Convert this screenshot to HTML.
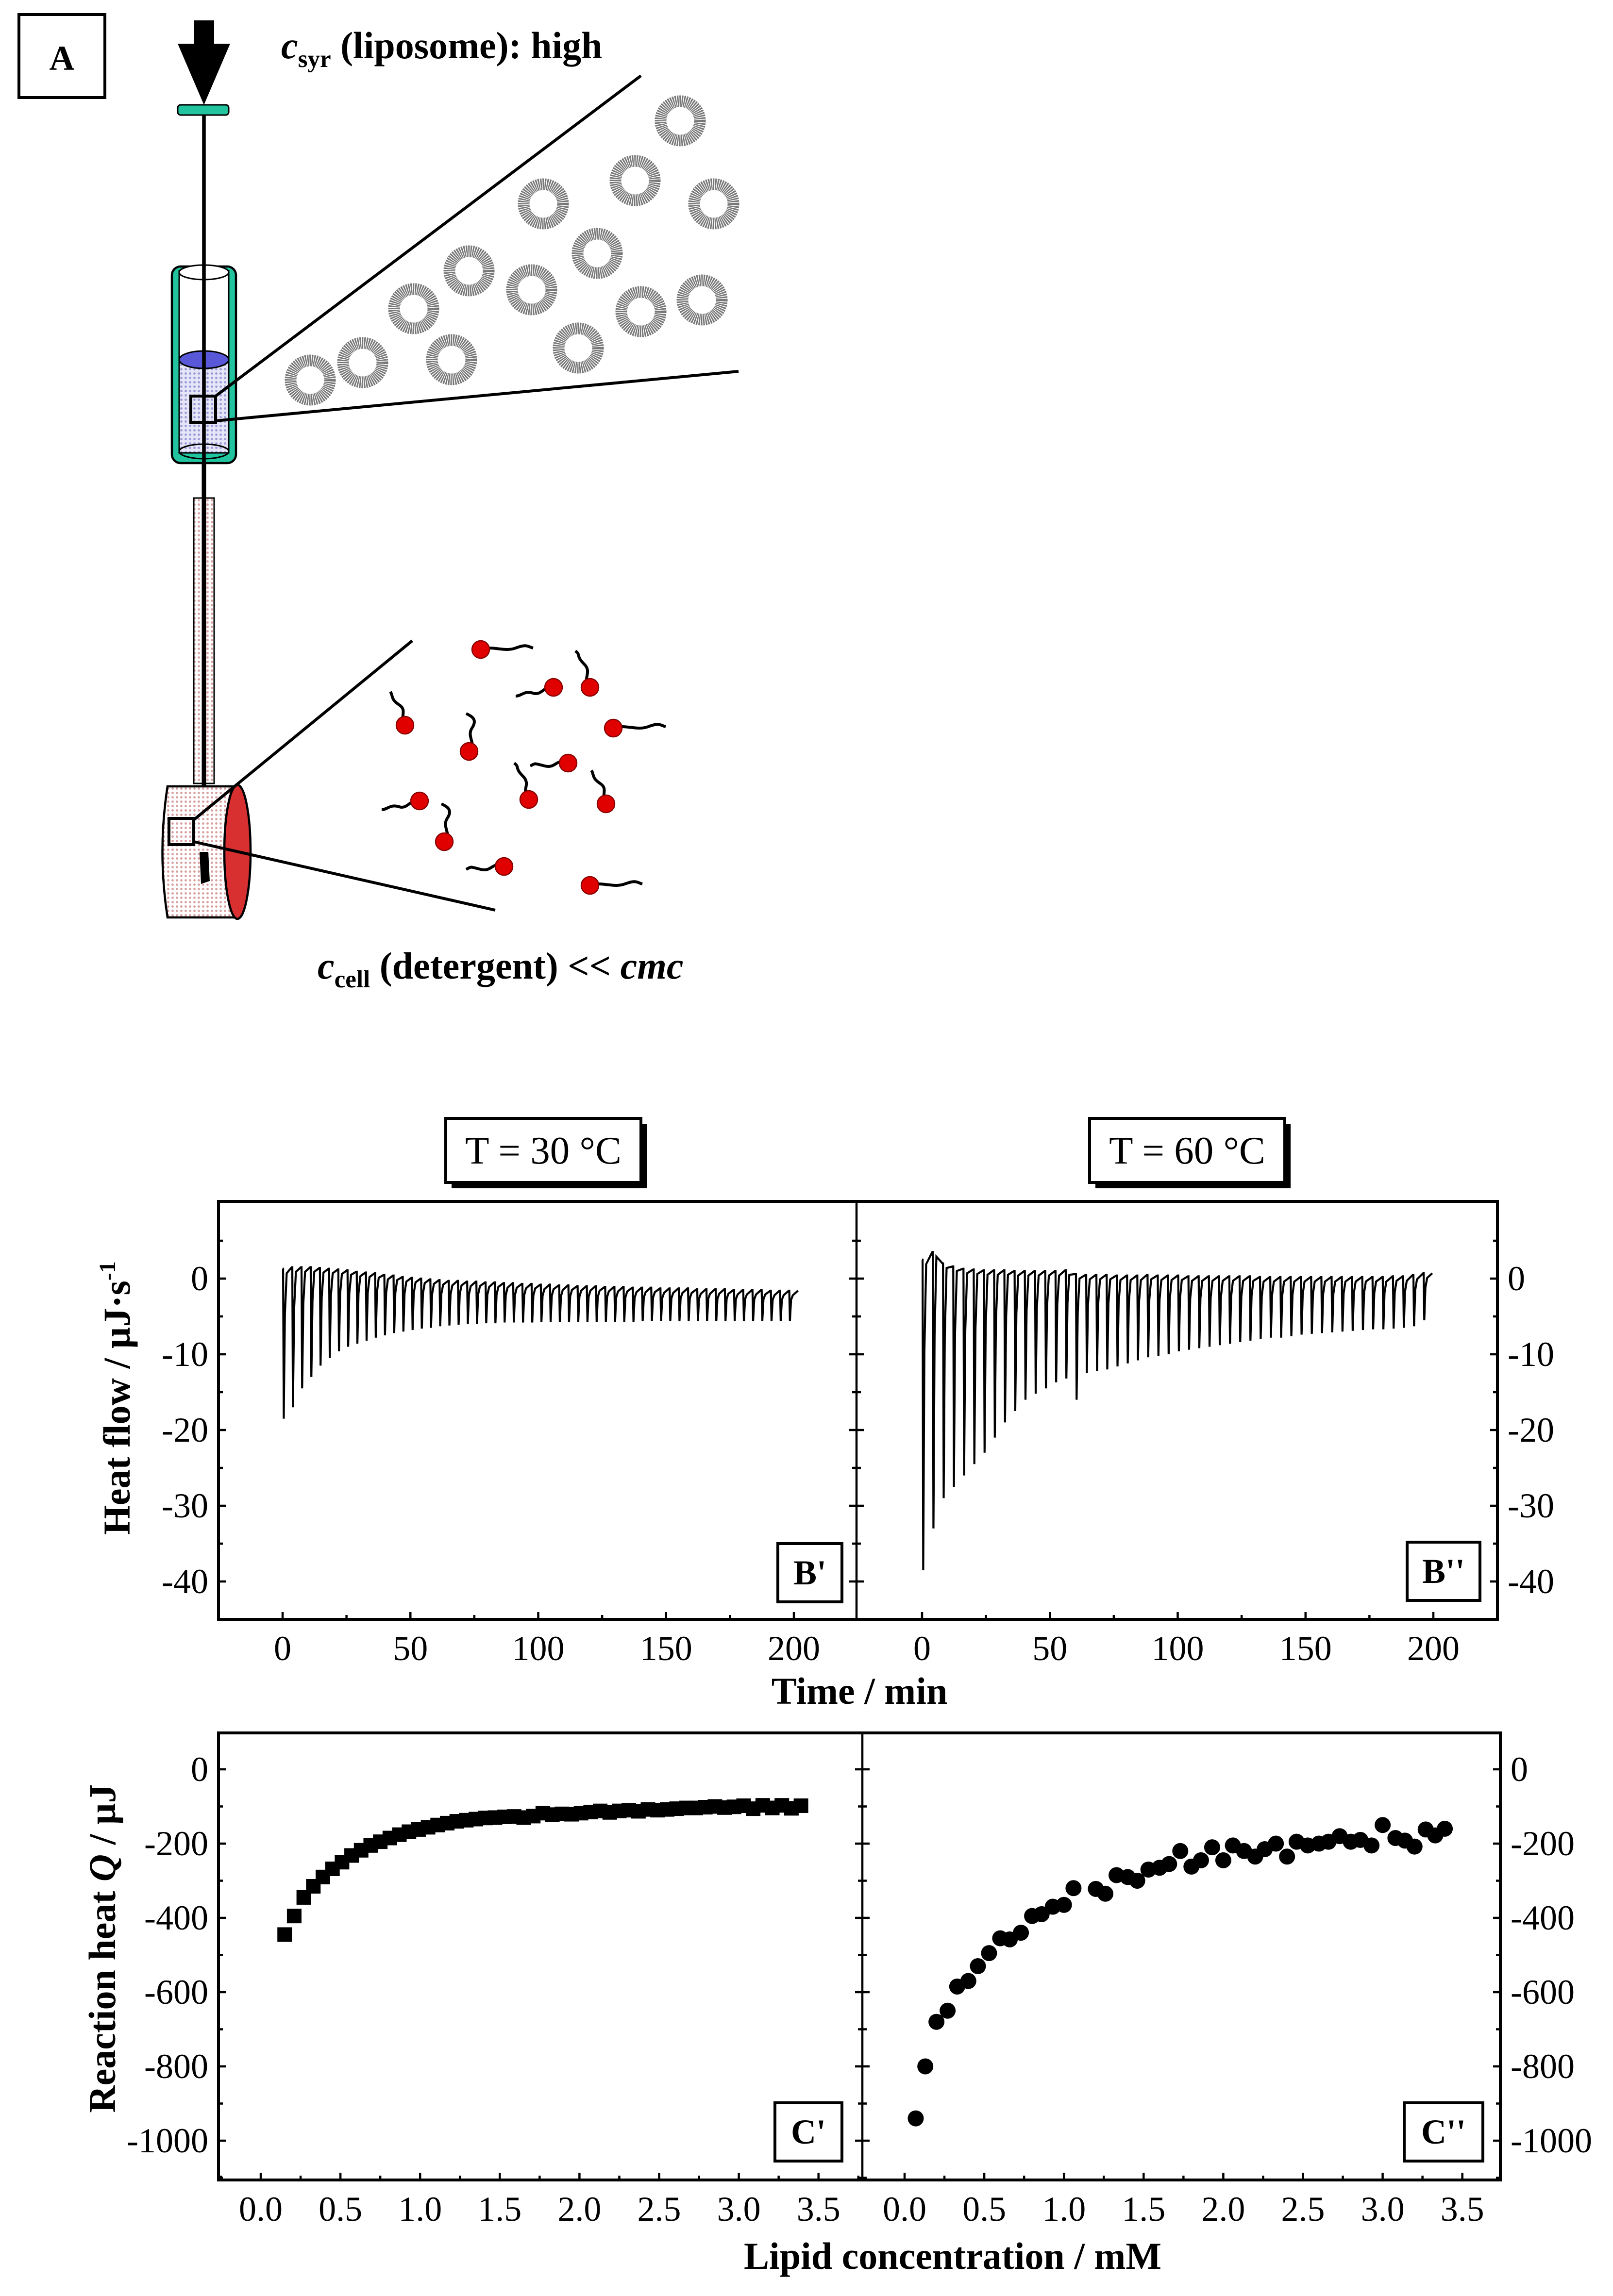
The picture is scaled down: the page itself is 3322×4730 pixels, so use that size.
<!DOCTYPE html>
<html><head><meta charset="utf-8"><style>
html,body{margin:0;padding:0;background:#fff}
svg{display:block}
text{font-family:"Liberation Serif",serif;fill:#000}
</style></head><body>
<svg id="fig" xmlns="http://www.w3.org/2000/svg" width="3322" height="4730" viewBox="0 0 1107.33 1576.67">
<defs>
<pattern id="dots" width="3" height="3" patternUnits="userSpaceOnUse"><rect width="3" height="3" fill="#fff"/><circle cx="1.5" cy="1.5" r="0.8" fill="#d9a0a0"/></pattern>
<pattern id="bdots" width="3" height="3" patternUnits="userSpaceOnUse"><rect width="3" height="3" fill="#e6e6f8"/><circle cx="1.5" cy="1.5" r="0.8" fill="#9a9ad8"/></pattern>
</defs>
<g>
<rect x="13" y="10" width="59" height="57" fill="none" stroke="#000" stroke-width="2"/>
<text x="42.5" y="48" font-size="24" font-weight="bold" text-anchor="middle">A</text>
<polygon points="133,14 147,14 147,30 158,30 140,72 122,30 133,30" fill="#000"/>
<rect x="122" y="72" width="35" height="7" rx="2" fill="#22c4a0" stroke="#000" stroke-width="1"/>
<rect x="118" y="183" width="44" height="135" rx="6" fill="#22c4a0" stroke="#000" stroke-width="1.5"/>
<rect x="123" y="186" width="34" height="125" fill="#fff" stroke="#000" stroke-width="1"/>
<rect x="123" y="247" width="34" height="64" fill="url(#bdots)" stroke="#000" stroke-width="1"/>
<ellipse cx="140" cy="247" rx="17" ry="6" fill="#5858d8" stroke="#000" stroke-width="1"/>
<ellipse cx="140" cy="187" rx="17" ry="5" fill="#fff" stroke="#000" stroke-width="1"/>
<ellipse cx="140" cy="310" rx="17" ry="5" fill="none" stroke="#000" stroke-width="1"/>
<line x1="140" y1="79" x2="140" y2="600" stroke="#000" stroke-width="2.5"/>
<rect x="133" y="342" width="14" height="196" fill="url(#dots)" stroke="#000" stroke-width="1"/>
<line x1="140" y1="318" x2="140" y2="600" stroke="#000" stroke-width="3"/>
<rect x="131" y="272" width="17" height="18" fill="none" stroke="#000" stroke-width="2"/>
<line x1="148" y1="272" x2="440" y2="52" stroke="#000" stroke-width="2"/>
<line x1="148" y1="289" x2="507" y2="255" stroke="#000" stroke-width="2"/>
<g id="lipos"></g>
<path d="M115,540 L162,540 L162,630 L115,630 Q108,585 115,540 Z" fill="url(#dots)" stroke="#000" stroke-width="1.5"/>
<ellipse cx="163" cy="585" rx="9" ry="46" fill="#d83030" stroke="#000" stroke-width="1.5"/>
<path d="M137,585 L143,585 L144,605 L138,607 Z" fill="#000"/>
<rect x="116" y="562" width="17" height="18" fill="none" stroke="#000" stroke-width="2"/>
<line x1="133" y1="563" x2="283" y2="440" stroke="#000" stroke-width="2"/>
<line x1="133" y1="578" x2="340" y2="625" stroke="#000" stroke-width="2"/>
<g id="dets"></g>
<text x="193" y="40" font-size="26" font-weight="bold"><tspan font-style="italic">c</tspan><tspan font-size="17" dy="6">syr</tspan><tspan dy="-6"> (liposome): high</tspan></text>
<text x="218" y="672" font-size="26" font-weight="bold"><tspan font-style="italic">c</tspan><tspan font-size="17" dy="6">cell</tspan><tspan dy="-6"> (detergent) &lt;&lt; </tspan><tspan font-style="italic">cmc</tspan></text>
</g>
<g>
<rect x="310" y="772" width="134" height="44" fill="#000"/>
<rect x="306" y="768" width="134" height="44" fill="#fff" stroke="#000" stroke-width="2"/>
<text x="373" y="799" font-size="27" text-anchor="middle">T = 30 °C</text>
<rect x="752" y="772" width="134" height="44" fill="#000"/>
<rect x="748" y="768" width="134" height="44" fill="#fff" stroke="#000" stroke-width="2"/>
<text x="815" y="799" font-size="27" text-anchor="middle">T = 60 °C</text>
</g>
<g id="charts"></g>
</svg>
<script>
// ---- data ----
const bLeftTimes = [0,3.6,7.2,10.8,14.4,18,21.6,25.2,28.8,32.4,36,39.6,43.2,46.8,50.4,54,57.6,61.2,64.8,68.4,72,75.6,79.2,82.8,86.4,90,93.6,97.2,100.8,104.4,108,111.6,115.2,118.8,122.4,126,129.6,133.2,136.8,140.4,144,147.6,151.2,154.8,158.4,162,165.6,169.2,172.8,176.4,180,183.6,187.2,190.8,194.4,198];
const bLeftPeaks = [-18.5,-17,-14.5,-13,-11.5,-10.5,-9.6,-9,-8.6,-8.2,-7.8,-7.5,-7.2,-7,-6.8,-6.6,-6.5,-6.3,-6.2,-6.1,-6,-6,-5.9,-5.9,-5.8,-5.8,-5.8,-5.8,-5.7,-5.7,-5.7,-5.7,-5.7,-5.7,-5.7,-5.7,-5.7,-5.7,-5.7,-5.6,-5.6,-5.6,-5.6,-5.6,-5.6,-5.6,-5.6,-5.6,-5.6,-5.6,-5.6,-5.6,-5.6,-5.6,-5.6,-5.6];
const bLeftBase = [1.3,1.5,1.5,1.5,1.4,1.3,1.2,1.1,0.9,0.8,0.7,0.5,0.4,0.2,0.1,0,-0.1,-0.2,-0.3,-0.3,-0.4,-0.4,-0.5,-0.5,-0.6,-0.6,-0.7,-0.7,-0.8,-0.8,-0.9,-0.9,-1,-1,-1,-1.1,-1.1,-1.1,-1.2,-1.2,-1.2,-1.3,-1.3,-1.3,-1.3,-1.4,-1.4,-1.4,-1.4,-1.5,-1.5,-1.5,-1.5,-1.6,-1.6,-1.6];
const bRightTimes = [0,4,8,12,16,20,24,28,32,36,40,44,48,52,56,60,64,68,72,76,80,84,88,92,96,100,104,108,112,116,120,124,128,132,136,140,144,148,152,156,160,164,168,172,176,180,184,188,192,196];
const bRightPeaks = [-38.5,-33,-29,-27.5,-26,-24.5,-23,-21,-19,-17.5,-16,-15.2,-14.5,-13.7,-13.2,-16,-12.5,-12.2,-12,-11.6,-11.2,-10.8,-10.4,-10.2,-10,-9.6,-9.4,-9.2,-9,-8.8,-8.6,-8.4,-8.2,-8,-7.8,-7.8,-7.6,-7.4,-7.3,-7.2,-7.1,-7,-6.9,-6.8,-6.7,-6.7,-6.6,-6.5,-6.3,-5.5];
const bRightBase = [2.5,3.5,2,1.6,1.3,1.2,1.1,1.1,1.1,1,1,1,1,1,1.1,0.6,0.5,0.5,0.5,0.4,0.4,0.4,0.5,0.4,0.4,0.4,0.3,0.3,0.3,0.3,0.3,0.3,0.3,0.2,0.2,0.2,0.2,0.2,0.2,0.2,0.2,0.2,0.2,0.2,0.2,0.2,0.3,0.3,0.5,0.7];
const bYTicks = [0,-10,-20,-30,-40];
const bXTicks = [0,50,100,150,200];

const cLeftX = [0.15,0.21,0.27,0.33,0.39,0.45,0.51,0.57,0.63,0.69,0.75,0.81,0.87,0.93,0.99,1.05,1.11,1.17,1.23,1.29,1.35,1.41,1.47,1.53,1.59,1.65,1.71,1.77,1.83,1.89,1.95,2.01,2.07,2.13,2.19,2.25,2.31,2.37,2.43,2.49,2.55,2.61,2.67,2.73,2.79,2.85,2.91,2.97,3.03,3.09,3.15,3.21,3.27,3.33,3.39];
const cLeftY = [-445,-395,-345,-315,-290,-268,-250,-232,-218,-205,-195,-185,-176,-168,-162,-156,-150,-145,-140,-137,-134,-131,-130,-128,-127,-130,-126,-118,-122,-120,-121,-118,-115,-112,-116,-112,-110,-113,-108,-110,-108,-106,-104,-104,-102,-100,-103,-101,-98,-106,-97,-104,-97,-105,-98];
const cRightX = [0.07,0.13,0.2,0.27,0.33,0.4,0.46,0.53,0.6,0.66,0.73,0.8,0.86,0.93,1,1.06,1.2,1.26,1.33,1.4,1.46,1.53,1.6,1.66,1.73,1.8,1.86,1.93,2,2.06,2.13,2.2,2.26,2.33,2.4,2.46,2.53,2.6,2.66,2.73,2.8,2.86,2.93,3.0,3.08,3.14,3.2,3.27,3.33,3.39];
const cRightY = [-940,-800,-680,-650,-585,-570,-530,-495,-455,-458,-440,-395,-390,-370,-365,-320,-322,-335,-285,-290,-300,-270,-265,-255,-220,-262,-245,-210,-245,-205,-220,-235,-215,-200,-235,-195,-205,-200,-195,-180,-195,-190,-205,-150,-185,-192,-208,-162,-178,-160];
const cYTicks = [0,-200,-400,-600,-800,-1000];
const cXTicks = [0.0,0.5,1.0,1.5,2.0,2.5,3.0,3.5];
const cXTickLabels = ["0.0","0.5","1.0","1.5","2.0","2.5","3.0","3.5"];

const lipoPos = [[213,261],[249,249],[284,212],[322,186],[310,247],[365,199],[373,140],[410,174],[397,239],[436,124],[440,214],[482,206],[490,140],[467,83]];
const detPos = [[330,446,1],[380,472,2],[405,472,3],[278,498,4],[322,516,5],[390,524,6],[421,500,1],[288,550,2],[363,549,3],[416,552,4],[305,578,5],[346,595,6],[405,608,1]];

const NS="http://www.w3.org/2000/svg";
function mk(tag,attrs,parent){const e=document.createElementNS(NS,tag);for(const k in attrs)e.setAttribute(k,attrs[k]);parent.appendChild(e);return e;}

const lip=document.getElementById('lipos');
lipoPos.forEach(p=>{
  const c=mk('circle',{cx:p[0],cy:p[1],r:13.5,fill:'none',stroke:'#777','stroke-width':8,'stroke-dasharray':'0.9 0.5'},lip);
  
  
});
const det=document.getElementById('dets');
const tails={1:'c8,-3 16,2 24,-1 s8,-1 12,0',2:'c-6,-2 -8,6 -14,4 s-8,2 -12,2',3:'c-6,-6 2,-10 -4,-16 s-2,-6 -6,-9',4:'c-4,-6 2,-10 -4,-14 s-4,-6 -6,-9',5:'c6,-4 -2,-10 2,-16 s0,-8 -4,-10',6:'c-8,-4 -8,4 -16,2 s-6,-2 -10,0'};
detPos.forEach(p=>{
  const t=mk('path',{d:'M'+p[0]+','+p[1]+' '+tails[p[2]],fill:'none',stroke:'#000','stroke-width':2},det);
  
  
  const h=mk('circle',{cx:p[0],cy:p[1],r:6,fill:'#e00000',stroke:'#800','stroke-width':0.8},det);
  
  
});

const charts=document.getElementById('charts');
const B={top:825,bottom:1112,left:150,mid:588,right:1028};
const byS=v=>878-(v*5.2);
const bxL=t=>194+t*1.755;
const bxR=t=>633+t*1.755;
function frame(f,name){
  const r=mk('rect',{x:f.left,y:f.top,width:f.right-f.left,height:f.bottom-f.top,fill:'none',stroke:'#000','stroke-width':2},charts);
  
  
  mk('line',{x1:f.mid,y1:f.top,x2:f.mid,y2:f.bottom,stroke:'#000','stroke-width':1.5},charts);
}
frame(B,'heat-flow-frame');
const gB=mk('g',{},charts);


for(let v=5;v>=-45;v-=5){
  const y=byS(v);const len=(v%10===0)?5:3;
  [B.left,B.mid,B.right].forEach(x=>{
    if(x===B.mid) mk('line',{x1:x-len,y1:y,x2:x+len,y2:y,stroke:'#000','stroke-width':1.5},gB);
    else mk('line',{x1:x,y1:y,x2:x+(x===B.left?len:-len),y2:y,stroke:'#000','stroke-width':1.5},gB);
  });
}
bYTicks.forEach(v=>{
  const t1=mk('text',{x:143,y:byS(v)+8,'font-size':24,'text-anchor':'end'},gB);t1.textContent=v;
  
  
  const t2=mk('text',{x:1035,y:byS(v)+8,'font-size':24},gB);t2.textContent=v;
  
  
});
for(let t=-25;t<=225;t+=25){
  [bxL,bxR].forEach(f=>{const x=f(t);if(x>B.left&&x<B.right&&Math.abs(x-B.mid)>2)mk('line',{x1:x,y1:B.bottom,x2:x,y2:B.bottom-(t%50===0?5:3),stroke:'#000','stroke-width':1.5},gB);});
}
bXTicks.forEach(t=>{
  [bxL,bxR].forEach(f=>{const tx=mk('text',{x:f(t),y:1140,'font-size':24,'text-anchor':'middle'},gB);tx.textContent=t;
    
    });
});
function thermogram(times,peaks,base,fx,name){
  let d='';
  for(let i=0;i<times.length;i++){
    const t=times[i];const b=base[i];const bn=(i+1<base.length)?base[i+1]:b;
    const dt=(i+1<times.length?times[i+1]-t:3.6);
    if(i===0)d+='M'+fx(t)+','+byS(b);
    d+=' L'+fx(t+0.2)+','+byS(b)+' L'+fx(t+0.45)+','+byS(peaks[i])+' L'+fx(t+0.9)+','+byS(b-(b-peaks[i])*0.3)+' L'+fx(t+1.6)+','+byS(b-0.6)+' L'+fx(t+dt)+','+byS(bn);
  }
  const p=mk('path',{d:d,fill:'none',stroke:'#000','stroke-width':1.4},charts);
  
  
}
thermogram(bLeftTimes,bLeftPeaks,bLeftBase,bxL,'thermogram-30c');
thermogram(bRightTimes,bRightPeaks,bRightBase,bxR,'thermogram-60c');
function labelBox(x,y,w,h,txt,name){
  const g=mk('g',{},charts);
  
  
  mk('rect',{x:x,y:y,width:w,height:h,fill:'#fff',stroke:'#000','stroke-width':2},g);
  const t=mk('text',{x:x+w/2,y:y+h/2+8,'font-size':24,'font-weight':'bold','text-anchor':'middle'},g);t.textContent=txt;
}
labelBox(534,1060,44,40,"B'",'panel-b1-label');
labelBox(966,1059,50,40,"B''",'panel-b2-label');
const xl1=mk('text',{x:590,y:1170,'font-size':26,'font-weight':'bold','text-anchor':'middle'},charts);xl1.textContent='Time / min';


const yl1=mk('text',{x:0,y:0,'font-size':26,'font-weight':'bold','text-anchor':'middle',transform:'translate(89,960) rotate(-90)'},charts);
yl1.innerHTML='Heat flow / µJ·s<tspan font-size="16" dy="-10">-1</tspan>';



const C={top:1190,bottom:1497,left:150,mid:592,right:1030};
const cyF=v=>1215+(-v)*0.255;
const cxL=x=>179+x*109.4;
const cxR=x=>621+x*109.4;
frame(C,'reaction-heat-frame');
const gC=mk('g',{},charts);


for(let v=0;v>=-1100;v-=100){
  const y=cyF(v);if(y>=C.bottom)continue;const len=(v%200===0)?5:3;
  mk('line',{x1:C.left,y1:y,x2:C.left+len,y2:y,stroke:'#000','stroke-width':1.5},gC);
  mk('line',{x1:C.mid-len,y1:y,x2:C.mid+len,y2:y,stroke:'#000','stroke-width':1.5},gC);
  mk('line',{x1:C.right-len,y1:y,x2:C.right,y2:y,stroke:'#000','stroke-width':1.5},gC);
}
cYTicks.forEach(v=>{
  const t1=mk('text',{x:143,y:cyF(v)+8,'font-size':24,'text-anchor':'end'},gC);t1.textContent=v;
  
  
  const t2=mk('text',{x:1037,y:cyF(v)+8,'font-size':24},gC);t2.textContent=v;
  
  
});
for(let x=-0.25;x<=3.75;x+=0.25){
  [cxL,cxR].forEach(f=>{const px=f(x);if(px>C.left&&px<C.right&&Math.abs(px-C.mid)>2)mk('line',{x1:px,y1:C.bottom,x2:px,y2:C.bottom-(Math.abs(x*2-Math.round(x*2))<1e-6?5:3),stroke:'#000','stroke-width':1.5},gC);});
}
cXTicks.forEach((x,i)=>{
  [cxL,cxR].forEach(f=>{const tx=mk('text',{x:f(x),y:1525,'font-size':24,'text-anchor':'middle'},gC);tx.textContent=cXTickLabels[i];
    
    });
});
const sq=mk('g',{},charts);


cLeftX.forEach((x,i)=>{const r=mk('rect',{x:cxL(x)-5,y:cyF(cLeftY[i])-5,width:10,height:10,fill:'#000'},sq);
  
  });
const ci=mk('g',{},charts);


cRightX.forEach((x,i)=>{const c=mk('circle',{cx:cxR(x),cy:cyF(cRightY[i]),r:5.5,fill:'#000'},ci);
  
  });
labelBox(532,1444,46,40,"C'",'panel-c1-label');
labelBox(964,1444,54,40,"C''",'panel-c2-label');
const xl2=mk('text',{x:654,y:1558,'font-size':26,'font-weight':'bold','text-anchor':'middle'},charts);xl2.textContent='Lipid concentration / mM';


const yl2=mk('text',{x:0,y:0,'font-size':26,'font-weight':'bold','text-anchor':'middle',transform:'translate(79,1338) rotate(-90)'},charts);
yl2.innerHTML='Reaction heat <tspan font-style="italic">Q</tspan> / µJ';


</script>
</body></html>
